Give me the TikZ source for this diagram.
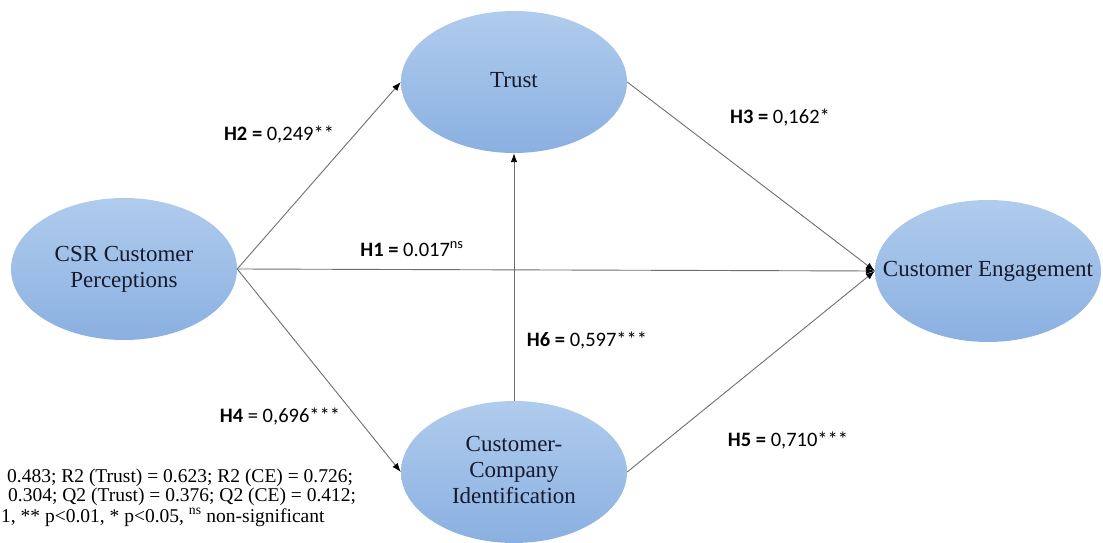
\documentclass[tikz,border=0pt]{standalone}
\usepackage{fontspec}
\setmainfont{Liberation Serif}
\newfontfamily\coeffont{Carlito}
\usepackage{tikz}
\usetikzlibrary{shapes.geometric}
\usetikzlibrary{arrows.meta}
\tikzset{>={Latex[length=9pt,width=6.5pt,color=black]}}
\definecolor{ctop}{RGB}{176,204,237}
\definecolor{cbottom}{RGB}{138,176,225}
\definecolor{ctext}{RGB}{22,26,44}
\definecolor{linegray}{RGB}{110,110,110}
\newcommand{\ctxt}[1]{\makebox[0pt]{\begin{tabular}{@{}c@{}}#1\end{tabular}}}
\tikzstyle{construct} = [ellipse, top color=ctop, bottom color=cbottom,
    minimum width=226pt, minimum height=142pt, inner sep=0pt, text=ctext,
    font=\fontsize{23}{26}\selectfont]
\tikzstyle{coef} = [font=\coeffont\fontsize{20.5}{24}\selectfont, inner sep=0pt]
\tikzstyle{note} = [anchor=base west, inner sep=0pt, font=\fontsize{19.5}{19}\selectfont]
\tikzstyle{link} = [draw=linegray, line width=0.9pt, ->]

\begin{document}
\begin{tikzpicture}[x=1pt, y=1pt, node distance=390pt]
    \useasboundingbox (0,0) rectangle (1103,542);
    % We start by placing the constructs
    \node [construct] (csr) at (124,273) {\ctxt{CSR Customer\\Perceptions}};
    \node [construct] (trust) at (514,460) {\ctxt{Trust}};
    \node [construct, below of=trust] (cci) {\ctxt{Customer-\\Company\\Identification}};
    \node [construct] (ce) at (988,271) {\ctxt{Customer Engagement}};

    % Once the constructs are placed, the paths connect them
    \draw [link] (csr.east) -- (trust.west);
    \draw [link] (csr.east) -- (ce.west);
    \draw [link] (csr.east) -- (cci.west);
    \draw [link] (cci.north) -- (trust.south);
    \draw [link] (trust.east) -- (ce.west);
    \draw [link] (cci.east) -- (ce.west);

    % path coefficients
    \node [coef] (h1) at (412,293) {\textbf{H1 =} 0.017\textsuperscript{ns}};
    \node [coef] (h2) at (279,407) {\textbf{H2 =} 0,249**};
    \node [coef] (h3) at (780,424) {\textbf{H3 =} 0,162*};
    \node [coef] (h4) at (280,125) {\textbf{H4} = 0,696***};
    \node [coef] (h5) at (788,101) {\textbf{H5 =} 0,710***};
    \node [coef] (h6) at (587,201) {\textbf{H6 =} 0,597***};

    % fit measures, cut at the left edge
    \node [note] (fit1) at (7,60) {0.483; R2 (Trust) = 0.623; R2 (CE) = 0.726;};
    \node [note] (fit2) at (8,40.5) {0.304; Q2 (Trust) = 0.376; Q2 (CE) = 0.412;};
    \node [note] (fit3) at (1,19.5) {1, ** p<0.01, * p<0.05, \textsuperscript{ns} non-significant};
\end{tikzpicture}
\end{document}
